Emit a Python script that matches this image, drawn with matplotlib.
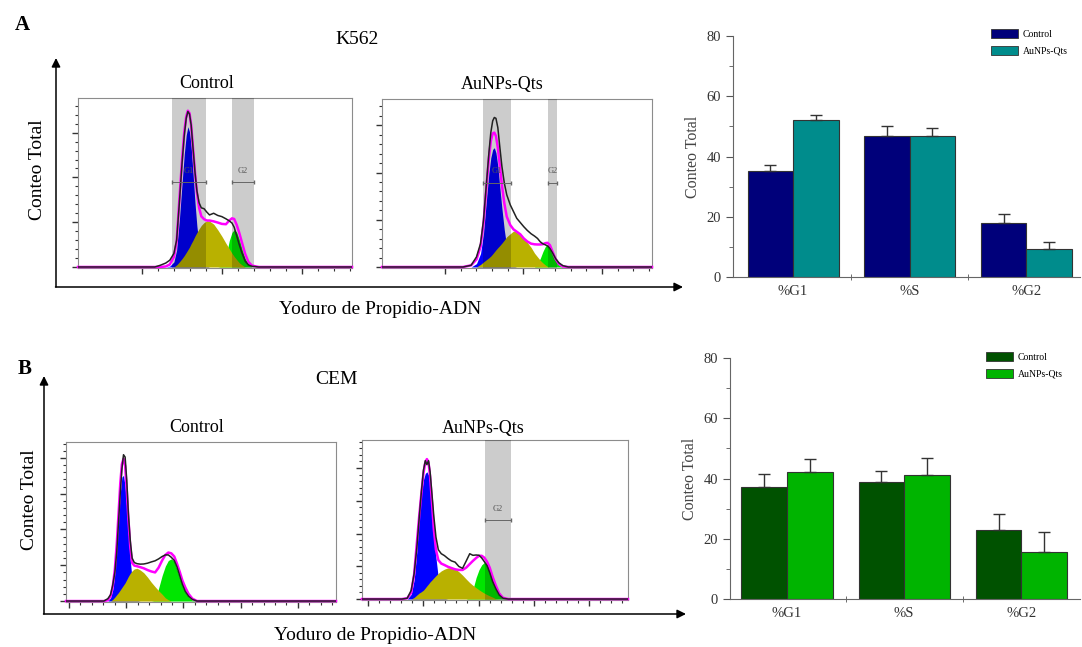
import numpy as np
import matplotlib
matplotlib.use("Agg")
import matplotlib.pyplot as plt
from matplotlib.ticker import FixedLocator, MultipleLocator
from matplotlib.patches import Patch

plt.rcParams['font.family'] = ['Liberation Serif', 'DejaVu Serif']

# ---- cell cycle histograms (x, y in % of the panel) ----
# K562 control
k562_ctrl_x = [0, 28, 30, 32, 33.5, 35, 36, 37, 38, 38.8, 39.5, 40.1, 40.7, 41.3, 42, 42.7, 43.4, 44.2, 45, 46,
               47, 48, 49.5, 51, 52.5, 54, 55.2, 56.2, 57, 57.9, 58.8, 59.8, 61, 62.2, 63.5, 66, 100]
k562_ctrl_g1 = [0, 0, 0, 0, 0.5, 3, 10, 28, 50, 67, 78, 83, 80, 71, 55, 38, 24, 13, 6, 2,
                0.5, 0, 0, 0, 0, 0, 0, 0, 0, 0, 0, 0, 0, 0, 0, 0, 0]
k562_ctrl_s = [0, 0, 0, 0, 0, 0, 1.2, 3, 5, 6.8, 8.6, 10.2, 11.8, 13.8, 15.9, 18.3, 20.4, 22.6, 24.6, 26.3,
               27.3, 27.1, 25.4, 22, 18.2, 14, 10.8, 8.1, 6.2, 4.4, 2.6, 1.3, 0, 0, 0, 0, 0]
k562_ctrl_g2 = [0, 0, 0, 0, 0, 0, 0, 0, 0, 0, 0, 0, 0, 0, 0, 0, 0, 0, 0, 0,
                0, 0, 0, 0, 0.5, 6, 15.5, 20.5, 22, 20.6, 16.5, 10.8, 5, 1.5, 0, 0, 0]
k562_ctrl_data = [0, 0, 1, 2.3, 4, 8, 16, 38, 62, 78, 88, 92, 90.5, 84, 70, 56, 45, 38, 35, 34.5,
                  32.5, 30.8, 31.8, 30.5, 29.8, 28.5, 27.3, 26, 23.5, 18.6, 13.5, 8.5, 3.5, 1.2, 0.4, 0, 0]
k562_ctrl_fit = [0, 0, 0, 0.3, 1.5, 6, 15, 40, 64, 80, 89, 92.5, 91, 84, 70, 56, 44, 35, 30, 28.3,
                 27.5, 27.5, 27, 26.3, 25.5, 25.3, 27.5, 28.8, 28.4, 25, 20.5, 14.7, 7.8, 3, 0.8, 0, 0]
k562_ctrl_gates = {"G1": (34.3, 46.7), "G2": (56.2, 64.2)}

# K562 AuNPs-Qts
k562_np_x = [0, 30, 33, 35, 36.5, 37.6, 38.8, 39.6, 40.3, 41.0, 41.6, 42.2, 42.9, 43.6, 44.4, 45.3, 46.2, 47.5,
             48.7, 49.9, 51.2, 52.5, 53.8, 55.2, 56.5, 57.6, 58.6, 59.6, 60.5, 61.3, 62.2, 63.2, 64.3, 65.5,
             67, 69, 100]
k562_np_g1 = [0, 0, 0, 2, 8, 20, 42, 56, 65, 70, 71, 68, 60, 48, 35, 22, 12, 3, 0.5, 0,
              0, 0, 0, 0, 0, 0, 0, 0, 0, 0, 0, 0, 0, 0, 0, 0, 0]
k562_np_s = [0, 0, 0, 0, 1.5, 3, 4.5, 5.5, 6.5, 7.8, 9, 10.2, 11.5, 12.7, 14.2, 16, 18, 19.8, 21.4, 21,
             20, 17.5, 14.6, 11.7, 8.2, 6, 4, 2.4, 1.2, 0.3, 0, 0, 0, 0, 0, 0, 0]
k562_np_g2 = [0, 0, 0, 0, 0, 0, 0, 0, 0, 0, 0, 0, 0, 0, 0, 0, 0, 0, 0, 0,
              0, 0, 0, 0, 0, 2.5, 5, 9.2, 12.2, 13.4, 12.3, 8.5, 4.3, 1.2, 0, 0, 0]
k562_np_data = [0, 0, 1, 6, 14, 28, 52, 68, 80, 87, 89, 88.5, 83, 72, 60, 50, 43, 37, 33, 29,
                26.5, 24, 21.8, 19.8, 18.4, 17, 15, 13.8, 13.2, 12.5, 11, 8.3, 5, 2.5, 0.8, 0, 0]
k562_np_fit = [0, 0, 1, 4.5, 12, 26, 50, 65, 75, 79.5, 80, 78, 71, 61, 49, 38, 30, 25, 22.4, 21,
               19.5, 17, 15.2, 13.9, 13.5, 13.4, 13.4, 13.6, 14.2, 14.4, 13, 9, 4.8, 1.8, 0.3, 0, 0]
k562_np_gates = {"G1": (37.4, 47.8), "G2": (61.5, 64.8)}

# CEM control
cem_ctrl_x = [0, 14, 15.5, 16.5, 17.3, 18.1, 18.8, 19.5, 20.1, 20.7, 21.3, 21.9, 22.5, 23.1, 23.8, 24.5, 25.3,
              26.3, 27.5, 28.8, 30.2, 31.6, 33, 34.3, 35.6, 36.8, 37.9, 39, 40.1, 41.1, 42.1, 43.1, 44.2,
              45.4, 46.8, 48.5, 100]
cem_ctrl_g1 = [0, 0, 0, 2, 7, 18, 34, 52, 68, 78, 79, 72, 58, 42, 26, 13, 5, 0.5, 0, 0,
               0, 0, 0, 0, 0, 0, 0, 0, 0, 0, 0, 0, 0, 0, 0, 0, 0]
cem_ctrl_s = [0, 0, 0, 0, 1, 2.5, 4, 5.5, 7, 8.5, 10, 11.5, 13.5, 15.5, 17.5, 19, 20.2, 20.6, 19.5, 17.8,
              15, 11.8, 9, 6.5, 4.3, 2, 0.8, 0, 0, 0, 0, 0, 0, 0, 0, 0, 0]
cem_ctrl_g2 = [0, 0, 0, 0, 0, 0, 0, 0, 0, 0, 0, 0, 0, 0, 0, 0, 0, 0, 0, 0,
               0, 0, 0.5, 8, 16, 22, 25.5, 26.5, 25, 20, 14.5, 9.5, 5.5, 2.5, 0.5, 0, 0]
cem_ctrl_data = [0, 0, 1.5, 4, 10, 18, 31, 51, 68, 83, 92, 90.5, 76, 55, 38, 27, 24.2, 23.5, 23.2, 23.3,
                 23.8, 24.6, 25.3, 26.5, 28, 29, 29, 27.5, 25.5, 21.5, 16, 10.5, 6, 3, 1, 0, 0]
cem_ctrl_fit = [0, 0, 0.5, 3, 9, 20, 36, 56, 74, 86, 89.5, 85, 70, 52, 34, 24, 22.3, 21.9, 21.3, 20.6,
                19.5, 18.6, 18, 21, 25.5, 29, 30.5, 30, 28, 23.5, 18.5, 13, 8.5, 4.5, 1.5, 0, 0]
cem_ctrl_gates = {}

# CEM AuNPs-Qts
cem_np_x = [0, 15, 17, 18.5, 19.6, 20.6, 21.5, 22.3, 23.1, 23.8, 24.4, 25.0, 25.6, 26.3, 27, 27.8, 28.7, 29.8,
            31, 32.3, 33.6, 35, 36.4, 37.8, 39.2, 40.5, 41.7, 42.9, 44, 45, 46, 47, 48, 49.1, 50.3, 51.6,
            53, 55, 100]
cem_np_g1 = [0, 0, 0, 3, 12, 30, 52, 66, 75, 79, 80, 78, 71, 56, 42, 26, 13, 4, 0.5, 0,
             0, 0, 0, 0, 0, 0, 0, 0, 0, 0, 0, 0, 0, 0, 0, 0, 0, 0, 0]
cem_np_s = [0, 0, 0, 0, 1, 2.5, 3.8, 4.6, 5.6, 7, 8.3, 9.5, 10.8, 12, 13.3, 14.7, 16.2, 17.7, 18.8, 19.6,
            19.8, 19, 17.2, 15, 12.5, 10.3, 8.6, 7.1, 5.8, 4.7, 3.7, 2.8, 2, 1.2, 0.2, 0, 0, 0, 0]
cem_np_g2 = [0, 0, 0, 0, 0, 0, 0, 0, 0, 0, 0, 0, 0, 0, 0, 0, 0, 0, 0, 0,
             0, 0, 0, 0, 0, 1, 6, 13.5, 18.5, 21.5, 23, 22.3, 19, 13.5, 8, 4, 1, 0, 0]
cem_np_data = [0, 0, 0.5, 5.5, 16, 32, 51, 67, 81, 87, 84.5, 87, 80, 66, 52, 39, 31, 28.5, 27.3, 25.5,
               24, 23.2, 20.5, 19.3, 24, 28.5, 27.5, 27.7, 27.5, 25.8, 23.5, 21, 16.7, 11, 6.5, 2.5, 0.5, 0, 0]
cem_np_fit = [0, 0, 0.5, 4, 15.5, 35, 52, 66, 79, 86, 88, 86, 77, 61, 44, 31, 24.5, 22.3, 21.4, 20.3,
              19.5, 18.7, 18.3, 18.3, 19.8, 22, 24, 25.8, 27.2, 27.2, 26, 23.5, 19.8, 14, 8.5, 3.5, 0.8, 0, 0]
cem_np_gates = {"G2": (46.2, 56.0)}

# ---- bar charts ----
phases = ["%G1", "%S", "%G2"]
groups = ["Control", "AuNPs-Qts"]
k562_ctrl_pct = [35.1, 46.8, 17.8]
k562_ctrl_err = [2.2, 3.4, 3.1]
k562_np_pct = [52.0, 46.8, 9.2]
k562_np_err = [1.9, 2.8, 2.5]
cem_ctrl_pct = [37.3, 38.8, 22.9]
cem_ctrl_err = [4.2, 3.8, 5.4]
cem_np_pct = [42.1, 41.3, 15.7]
cem_np_err = [4.3, 5.5, 6.4]

W, H = 1082, 647
fig = plt.figure(figsize=(W / 100, H / 100), dpi=100)


def px_axes(x0, y0, x1, y1):
    # axes from pixel box measured from the top left corner
    return fig.add_axes([x0 / W, 1 - y1 / H, (x1 - x0) / W, (y1 - y0) / H])


def draw_histogram(ax, x, g1, s, g2, data, fit, gates, gate_y, xt0, xstep, ystep):
    ax.fill_between(x, g1, color='#0000ff', lw=0, zorder=2)
    ax.fill_between(x, g2, color='#00e600', lw=0, zorder=3)
    ax.fill_between(x, s, color='#b9b100', lw=0, zorder=4)
    for name, (a, b) in gates.items():
        ax.axvspan(a, b, color='black', alpha=0.2, lw=0, zorder=5)
        ax.text((a + b) / 2, gate_y + 7, name, fontsize=6, color='#555555',
                ha='center', va='center', zorder=8)
        ax.plot([a, b], [gate_y, gate_y], color='#666666', lw=0.7, marker='|', ms=3, zorder=8)
    ax.plot(x, fit, color='#ff00ff', lw=1.8, zorder=6, clip_on=False)
    ax.plot(x, data, color='#222222', lw=1.1, zorder=7)
    ax.set_xlim(0, 100)
    ax.set_ylim(-0.6, 100)
    ax.xaxis.set_major_locator(FixedLocator(np.arange(xt0, 100, xstep)))
    ax.xaxis.set_minor_locator(FixedLocator(np.arange(xt0, 100, xstep / 5)))
    ax.yaxis.set_major_locator(MultipleLocator(ystep))
    ax.yaxis.set_minor_locator(MultipleLocator(ystep / 5))
    ax.tick_params(which='both', direction='out', color='#333333', top=False, right=False,
                   labelbottom=False, labelleft=False)
    ax.tick_params(which='major', length=4, width=1)
    ax.tick_params(which='minor', length=2.5, width=0.8)
    for sp in ax.spines.values():
        sp.set_color('#8c8c8c')
        sp.set_linewidth(0.8)


def draw_bars(ax, ctrl, ctrl_err, trt, trt_err, c1, c2, xlim, legend_xy):
    x = np.arange(len(phases))
    w = 0.39
    ax.bar(x - w / 2, ctrl, w, color=c1, edgecolor='#333333', lw=0.8, zorder=2)
    ax.bar(x + w / 2, trt, w, color=c2, edgecolor='#333333', lw=0.8, zorder=2)
    ax.errorbar(x - w / 2, ctrl, yerr=[np.zeros(len(x)), ctrl_err], fmt='none',
                ecolor='#333333', elinewidth=1, capsize=4, capthick=1, zorder=3)
    ax.errorbar(x + w / 2, trt, yerr=[np.zeros(len(x)), trt_err], fmt='none',
                ecolor='#333333', elinewidth=1, capsize=4, capthick=1, zorder=3)
    ax.set_ylim(0, 80)
    ax.set_xlim(*xlim)
    ax.set_xticks(x, phases, fontsize=10.5, color='#333333')
    ax.set_xticks([0.5, 1.5], minor=True)
    ax.tick_params(axis='x', which='major', length=0, pad=6)
    ax.tick_params(axis='x', which='minor', length=4, direction='inout', color='#555555')
    ax.set_yticks([0, 20, 40, 60, 80])
    ax.yaxis.set_minor_locator(MultipleLocator(10))
    ax.tick_params(axis='y', which='major', length=5, labelsize=10.5, labelcolor='#333333', color='#555555')
    ax.tick_params(axis='y', which='minor', length=3, color='#555555')
    ax.spines['top'].set_visible(False)
    ax.spines['right'].set_visible(False)
    for side in ('left', 'bottom'):
        ax.spines[side].set_color('#666666')
    ax.set_ylabel("Conteo Total", fontsize=11.5, color='#444444', labelpad=4)
    fig.legend([Patch(facecolor=c1, edgecolor='#333333', lw=0.6),
                Patch(facecolor=c2, edgecolor='#333333', lw=0.6)], groups,
               loc='upper left', bbox_to_anchor=(legend_xy[0] / W, 1 - legend_xy[1] / H),
               frameon=False, fontsize=7, handlelength=2.8, handleheight=1.1,
               labelspacing=0.7, borderpad=0, borderaxespad=0, handletextpad=0.5)


ax1 = px_axes(78, 98, 352, 268)
draw_histogram(ax1, k562_ctrl_x, k562_ctrl_g1, k562_ctrl_s, k562_ctrl_g2, k562_ctrl_data, k562_ctrl_fit,
               k562_ctrl_gates, 50, 23.4, 29.2, 26.5)
ax2 = px_axes(382, 99, 652, 268)
draw_histogram(ax2, k562_np_x, k562_np_g1, k562_np_s, k562_np_g2, k562_np_data, k562_np_fit,
               k562_np_gates, 50, 23.3, 29.1, 28.1)
ax3 = px_axes(66, 442, 336, 602)
draw_histogram(ax3, cem_ctrl_x, cem_ctrl_g1, cem_ctrl_s, cem_ctrl_g2, cem_ctrl_data, cem_ctrl_fit,
               cem_ctrl_gates, 50, 1.1, 21.2, 22.5)
ax4 = px_axes(362, 440, 628, 600)
draw_histogram(ax4, cem_np_x, cem_np_g1, cem_np_s, cem_np_g2, cem_np_data, cem_np_fit,
               cem_np_gates, 49.4, 2.4, 20.7, 20.6)

bar_a = px_axes(733, 36, 1080, 277)
draw_bars(bar_a, k562_ctrl_pct, k562_ctrl_err, k562_np_pct, k562_np_err,
          '#00007a', '#008c8c', (-0.515, 2.46), (991, 29))
bar_b = px_axes(730, 358, 1080, 599)
draw_bars(bar_b, cem_ctrl_pct, cem_ctrl_err, cem_np_pct, cem_np_err,
          '#005200', '#00b400', (-0.487, 2.50), (986, 352))

# overlay in pixels for arrows and labels
ov = fig.add_axes([0, 0, 1, 1], zorder=-1)
ov.set_xlim(0, W)
ov.set_ylim(H, 0)
ov.axis('off')
arrow = dict(arrowstyle='-|>', color='black', lw=1.1, mutation_scale=13, shrinkA=0, shrinkB=0)
ov.annotate('', xy=(56, 58), xytext=(56, 287), arrowprops=arrow)
ov.annotate('', xy=(683, 287), xytext=(55.5, 287), arrowprops=arrow)
ov.annotate('', xy=(44, 376), xytext=(44, 614), arrowprops=arrow)
ov.annotate('', xy=(686, 614), xytext=(43.5, 614), arrowprops=arrow)

ov.text(15, 25, "A", fontsize=15, fontweight='bold', ha='left', va='center')
ov.text(357, 39, "K562", fontsize=14, ha='center', va='center')
ov.text(207, 83, "Control", fontsize=13, ha='center', va='center')
ov.text(502, 85, "AuNPs-Qts", fontsize=13, ha='center', va='center')
ov.text(37, 170, "Conteo Total", fontsize=14, rotation=90, ha='center', va='center')
ov.text(380, 310, "Yoduro de Propidio-ADN", fontsize=14, ha='center', va='center')

ov.text(18, 369, "B", fontsize=15, fontweight='bold', ha='left', va='center')
ov.text(336, 379, "CEM", fontsize=14, ha='center', va='center')
ov.text(197, 427, "Control", fontsize=13, ha='center', va='center')
ov.text(483, 428, "AuNPs-Qts", fontsize=13, ha='center', va='center')
ov.text(30, 500, "Conteo Total", fontsize=14, rotation=90, ha='center', va='center')
ov.text(375, 636, "Yoduro de Propidio-ADN", fontsize=14, ha='center', va='center')

fig.savefig("out.png", dpi=100)
